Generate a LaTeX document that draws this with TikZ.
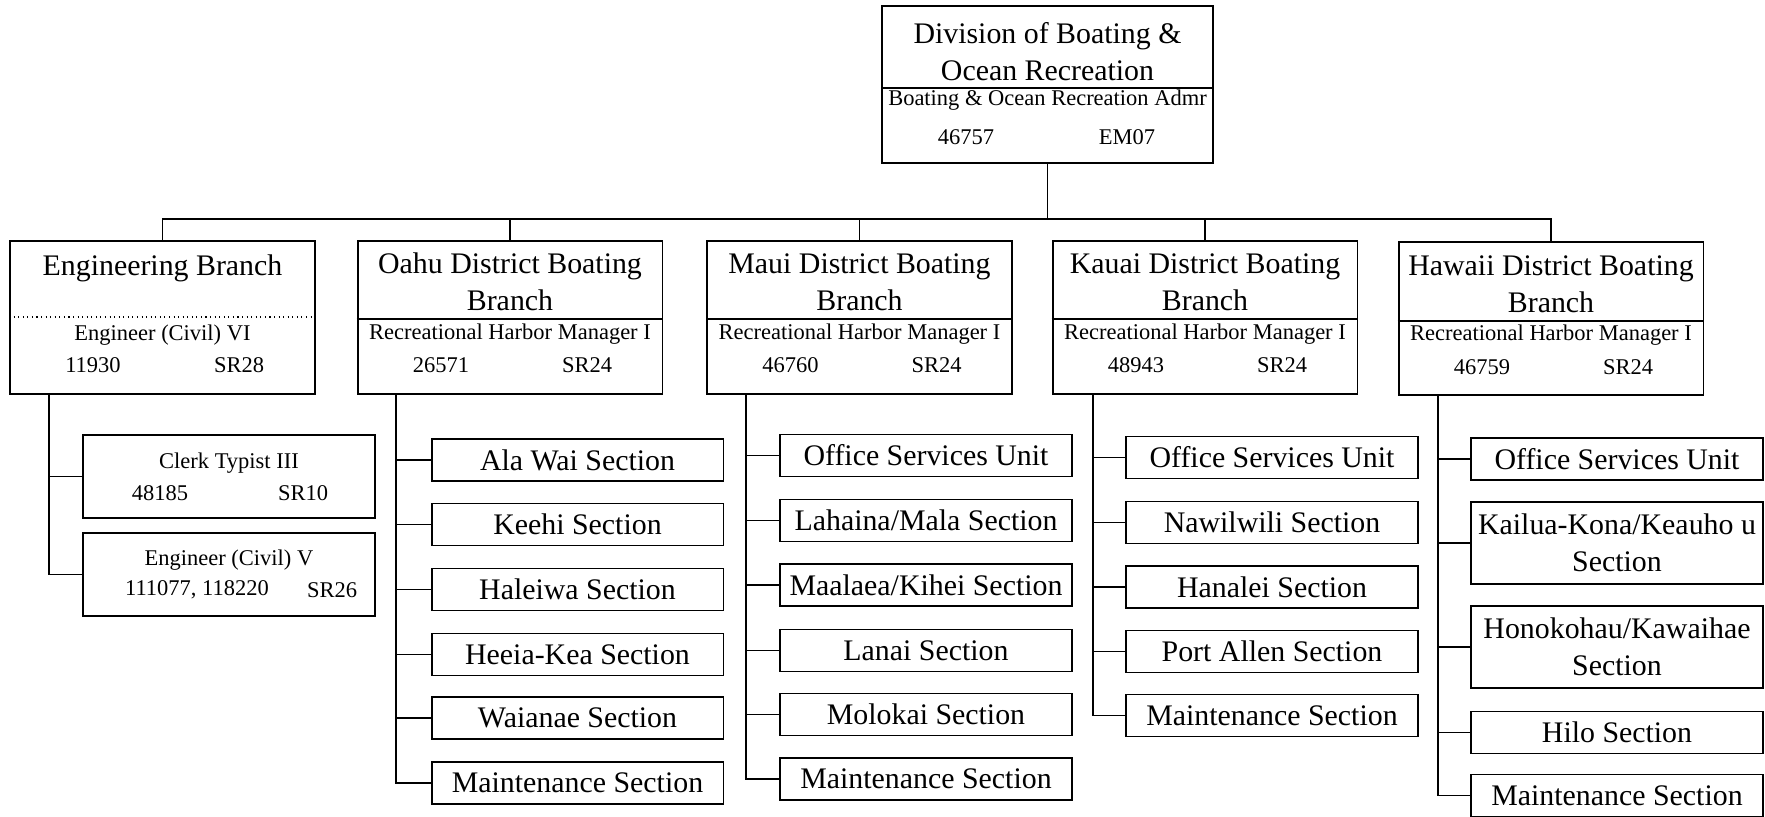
\documentclass[tikz,border=0pt]{standalone}
\usepackage{fontspec}
\setmainfont{Liberation Serif}

\begin{document}
\begin{tikzpicture}[
            x=0.02cm, y=-0.02cm,
            box/.style={draw,line width=1.1pt,inner sep=0pt},
            branch/.style={box,minimum width=6.1cm,minimum height=3.06cm},
            unit/.style={box,minimum width=5.84cm,minimum height=0.84cm,font=\fontsize{17}{21}\selectfont,align=center},
            unit2/.style={unit,minimum height=1.64cm},
            post/.style={box,minimum width=5.84cm,minimum height=1.66cm},
            big/.style={font=\fontsize{17}{21}\selectfont,align=center,inner sep=0pt},
            small/.style={font=\fontsize{12.8}{15}\selectfont,inner sep=0pt},
            rule/.style={line width=0.6pt}
        ]
            \useasboundingbox (0,0) rectangle (1765,817);

            \node[box,minimum width=6.62cm,minimum height=3.14cm] (admin) at (1047.5,84.5) {};
            \node[big]   (admint) at (1047.5,52)  {Division of Boating \&\\Ocean Recreation};
            \node[small] (adminp) at (1047.5,100) {Boating \& Ocean Recreation Admr};
            \node[small] (adminn) at (966,137)    {46757};
            \node[small] (adming) at (1127,137)   {EM07};
            \draw[rule] (admin.west |- 0,88) -- (admin.east |- 0,88);

            \node[branch] (eng) at (162.5,317.5) {};
            \node[big]   (engt) at (162.5,268) {Engineering Branch};
            \node[small] (engp) at (162.5,335) {Engineer (Civil) VI};
            \node[small] (engn) at (93,365)    {11930};
            \node[small] (engg) at (239,365)   {SR28};
            \draw[rule,dotted] (eng.west |- 0,317) -- (eng.east |- 0,317);

            \node[branch] (oahu) at (510,317.5) {};
            \node[big]   (oahut) at (510,282) {Oahu District Boating\\Branch};
            \node[small] (oahup) at (510,334) {Recreational Harbor Manager I};
            \node[small] (oahun) at (441,365) {26571};
            \node[small] (oahug) at (587,365) {SR24};
            \draw[rule] (oahu.west |- 0,319) -- (oahu.east |- 0,319);

            \node[branch] (maui) at (859.5,317.5) {};
            \node[big]   (mauit) at (859.5,282) {Maui District Boating\\Branch};
            \node[small] (mauip) at (859.5,334) {Recreational Harbor Manager I};
            \node[small] (mauin) at (790.5,365) {46760};
            \node[small] (mauig) at (936.5,365) {SR24};
            \draw[rule] (maui.west |- 0,319) -- (maui.east |- 0,319);

            \node[branch] (kauai) at (1205,317.5) {};
            \node[big]   (kauait) at (1205,282) {Kauai District Boating\\Branch};
            \node[small] (kauaip) at (1205,334) {Recreational Harbor Manager I};
            \node[small] (kauain) at (1136,365) {48943};
            \node[small] (kauaig) at (1282,365) {SR24};
            \draw[rule] (kauai.west |- 0,319) -- (kauai.east |- 0,319);

            \node[branch] (hawaii) at (1551,318.5) {};
            \node[big]   (hawaiit) at (1551,284) {Hawaii District Boating\\Branch};
            \node[small] (hawaiip) at (1551,335) {Recreational Harbor Manager I};
            \node[small] (hawaiin) at (1482,367) {46759};
            \node[small] (hawaiig) at (1628,367) {SR24};
            \draw[rule] (hawaii.west |- 0,321) -- (hawaii.east |- 0,321);

            \node[post] (eng1) at (229,476.5) {};
            \node[small] (eng1p) at (229,463) {Clerk Typist III};
            \node[small] (eng1n) at (160,493) {48185};
            \node[small] (eng1g) at (303,493) {SR10};
            \node[post] (eng2) at (229,574.5) {};
            \node[small] (eng2p) at (229,560) {Engineer (Civil) V};
            \node[small] (eng2n) at (197,590) {111077, 118220};
            \node[small] (eng2g) at (332,590) {SR26};

            \node[unit] (oahu1) at (577.5,460)   {Ala Wai Section};
            \node[unit] (oahu2) at (577.5,524.5) {Keehi Section};
            \node[unit] (oahu3) at (577.5,589.5) {Haleiwa Section};
            \node[unit] (oahu4) at (577.5,654.5) {Heeia-Kea Section};
            \node[unit] (oahu5) at (577.5,718)   {Waianae Section};
            \node[unit] (oahu6) at (577.5,783)   {Maintenance Section};

            \node[unit] (maui1) at (926,455.5) {Office Services Unit};
            \node[unit] (maui2) at (926,520.5) {Lahaina/Mala Section};
            \node[unit] (maui3) at (926,585)   {Maalaea/Kihei Section};
            \node[unit] (maui4) at (926,650.5) {Lanai Section};
            \node[unit] (maui5) at (926,714.5) {Molokai Section};
            \node[unit] (maui6) at (926,779)   {Maintenance Section};

            \node[unit] (kauai1) at (1272,457.5) {Office Services Unit};
            \node[unit] (kauai2) at (1272,522.5) {Nawilwili Section};
            \node[unit] (kauai3) at (1272,587)   {Hanalei Section};
            \node[unit] (kauai4) at (1272,651.5) {Port Allen Section};
            \node[unit] (kauai5) at (1272,715.5) {Maintenance Section};

            \node[unit]  (hawaii1) at (1617,459)   {Office Services Unit};
            \node[unit2] (hawaii2) at (1617,543)   {Kailua-Kona/Keauho u\\Section};
            \node[unit2] (hawaii3) at (1617,647)   {Honokohau/Kawaihae\\Section};
            \node[unit]  (hawaii4) at (1617,732.5) {Hilo Section};
            \node[unit]  (hawaii5) at (1617,795.5) {Maintenance Section};

            \coordinate (bus)      at (1049,219);
            \coordinate (engsp)    at (49,393);
            \coordinate (oahusp)   at (396,394);
            \coordinate (mauisp)   at (746,394);
            \coordinate (kauaisp)  at (1093,394);
            \coordinate (hawaiisp) at (1438,395);

            \begin{scope}[line width=1.1pt]
                \draw (admin.south) -- (admin.south |- bus);
                \draw (eng.north) |- (bus) -| (hawaii.north);
                \draw (oahu.north)  -- (oahu.north |- bus);
                \draw (maui.north)  -- (maui.north |- bus);
                \draw (kauai.north) -- (kauai.north |- bus);

                \draw (engsp) |- (eng2.west);
                \draw (eng1.west) -- (eng1.west -| engsp);

                \draw (oahusp) |- (oahu6.west);
                \foreach \i in {1,...,5}
                    \draw (oahu\i.west) -- (oahu\i.west -| oahusp);

                \draw (mauisp) |- (maui6.west);
                \foreach \i in {1,...,5}
                    \draw (maui\i.west) -- (maui\i.west -| mauisp);

                \draw (kauaisp) |- (kauai5.west);
                \foreach \i in {1,...,4}
                    \draw (kauai\i.west) -- (kauai\i.west -| kauaisp);

                \draw (hawaiisp) |- (hawaii5.west);
                \foreach \i in {1,...,4}
                    \draw (hawaii\i.west) -- (hawaii\i.west -| hawaiisp);
            \end{scope}
        \end{tikzpicture}
\end{document}
